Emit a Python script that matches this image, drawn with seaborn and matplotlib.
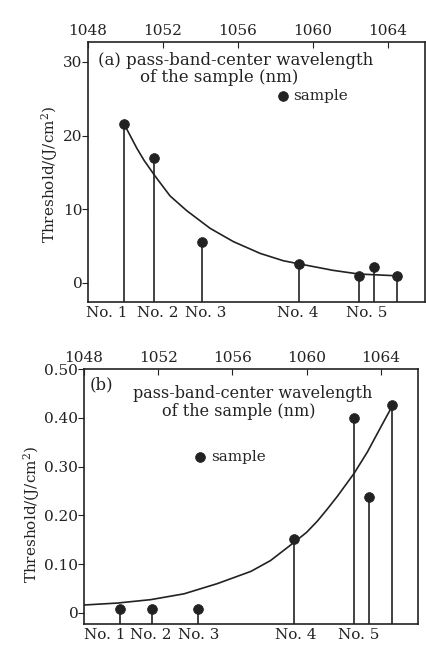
import numpy as np
import pandas as pd
import matplotlib
matplotlib.use("Agg")
import matplotlib.pyplot as plt
import seaborn as sns

# ---- panel (a) data ----
a_wl = [1049.9, 1051.5, 1054.1, 1059.25, 1062.45, 1063.25, 1064.5]
a_thr = [21.6, 16.9, 5.5, 2.5, 0.9, 2.1, 0.9]
a_curve_wl = [1049.98, 1050.25, 1050.6, 1051.0, 1051.58, 1052.38, 1053.27,
              1054.52, 1055.76, 1057.19, 1058.43, 1059.23, 1061.08, 1062.45,
              1064.55]
a_curve_thr = [21.3, 20.0, 18.3, 16.6, 14.5, 11.8, 9.8,
               7.4, 5.6, 4.0, 3.0, 2.6, 1.7, 1.2, 0.95]
a_yticks = [0, 10, 20, 30]
a_yticklabels = ["0", "10", "20", "30"]

# ---- panel (b) data ----
b_wl = [1049.95, 1051.66, 1054.15, 1059.31, 1062.56, 1063.34, 1064.63]
b_thr = [0.008, 0.007, 0.007, 0.151, 0.399, 0.237, 0.426]
b_curve_wl = [1048.0, 1049.8, 1051.6, 1053.4, 1055.2, 1057.0, 1058.05,
              1059.31, 1060.0, 1060.58, 1061.1, 1061.66, 1062.1, 1062.56,
              1063.28, 1064.0, 1064.63]
b_curve_thr = [0.016, 0.020, 0.027, 0.039, 0.060, 0.085, 0.107,
               0.144, 0.165, 0.188, 0.212, 0.239, 0.262, 0.286,
               0.330, 0.381, 0.425]
b_yticks = [0, 0.1, 0.2, 0.3, 0.4, 0.5]
b_yticklabels = ["0", "0.10", "0.20", "0.30", "0.40", "0.50"]

# shared
wl_ticks = [1048, 1052, 1056, 1060, 1064]
sample_names = ["No. 1", "No. 2", "No. 3", "No. 4", "No. 5"]
a_name_pos = [1049.0, 1051.7, 1054.3, 1059.2, 1062.9]
b_name_pos = [1049.1, 1051.6, 1054.2, 1059.4, 1062.8]

INK = "#222222"

sns.set_style("ticks")
plt.rcParams["font.family"] = ["DejaVu Serif"]
plt.rcParams["mathtext.fontset"] = "dejavuserif"

fig = plt.figure(figsize=(4.26, 6.52), dpi=100)
ax_a = fig.add_axes([0.2066, 0.5368, 0.7914, 0.3988])
ax_b = fig.add_axes([0.197, 0.0429, 0.784, 0.3911])


def draw_panel(ax, wl, thr, cwl, cthr, ylim, yticks, yticklabels, name_pos):
    df_pts = pd.DataFrame({"wl": wl, "thr": thr})
    df_curve = pd.DataFrame({"wl": cwl, "thr": cthr})
    ax.vlines(df_pts["wl"], ylim[0], df_pts["thr"], color=INK, lw=1.2)
    sns.lineplot(data=df_curve, x="wl", y="thr", ax=ax, color=INK, lw=1.2,
                 sort=False, estimator=None)
    sns.scatterplot(data=df_pts, x="wl", y="thr", ax=ax, color=INK, s=50,
                    edgecolor=INK, linewidth=0.5, label="sample", zorder=5)
    ax.set_xlim(1048, 1066)
    ax.set_ylim(*ylim)
    ax.set_yticks(yticks)
    ax.set_yticklabels(yticklabels, fontsize=11)
    ax.set_xticks(wl_ticks)
    ax.set_xticklabels([str(t) for t in wl_ticks], fontsize=11)
    ax.tick_params(axis="x", top=True, labeltop=True, bottom=False,
                   labelbottom=False, direction="in", length=4, pad=3,
                   colors=INK)
    ax.tick_params(axis="y", direction="out", length=4, pad=0, colors=INK)
    ax.set_xlabel("")
    for sp in ax.spines.values():
        sp.set_visible(True)
        sp.set_linewidth(1.2)
        sp.set_color(INK)
    sec = ax.secondary_xaxis("bottom")
    sec.set_xticks(name_pos)
    sec.set_xticklabels(sample_names, fontsize=11)
    sec.tick_params(length=0, pad=3, colors=INK)
    sec.spines["bottom"].set_visible(False)
    ax.set_ylabel("Threshold/(J/cm$^2$)", fontsize=11, color=INK)


draw_panel(ax_a, a_wl, a_thr, a_curve_wl, a_curve_thr, (-2.6, 32.7),
           a_yticks, a_yticklabels, a_name_pos)
draw_panel(ax_b, b_wl, b_thr, b_curve_wl, b_curve_thr, (-0.023, 0.497),
           b_yticks, b_yticklabels, b_name_pos)

# panel (a) annotations
ax_a.text(0.03, 0.93, "(a) pass-band-center wavelength", transform=ax_a.transAxes,
          fontsize=12, va="center", ha="left", color=INK)
ax_a.text(0.154, 0.865, "of the sample (nm)", transform=ax_a.transAxes,
          fontsize=12, va="center", ha="left", color=INK)
ax_a.legend(loc="center left", bbox_to_anchor=(0.555, 0.792), frameon=False,
            fontsize=11, handlelength=1, handletextpad=0.2, borderpad=0,
            borderaxespad=0)
ax_a.yaxis.set_label_coords(-0.083, 0.49)

# panel (b) annotations
ax_b.text(0.018, 0.937, "(b)", transform=ax_b.transAxes,
          fontsize=12, va="center", ha="left", color=INK)
ax_b.text(0.147, 0.905, "pass-band-center wavelength", transform=ax_b.transAxes,
          fontsize=11.5, va="center", ha="left", color=INK)
ax_b.text(0.234, 0.835, "of the sample (nm)", transform=ax_b.transAxes,
          fontsize=11.5, va="center", ha="left", color=INK)
ax_b.legend(loc="center left", bbox_to_anchor=(0.326, 0.655), frameon=False,
            fontsize=11, handlelength=1, handletextpad=0.2, borderpad=0,
            borderaxespad=0)
ax_b.yaxis.set_label_coords(-0.126, 0.43)

fig.savefig("out.png", dpi=100, facecolor="white")
